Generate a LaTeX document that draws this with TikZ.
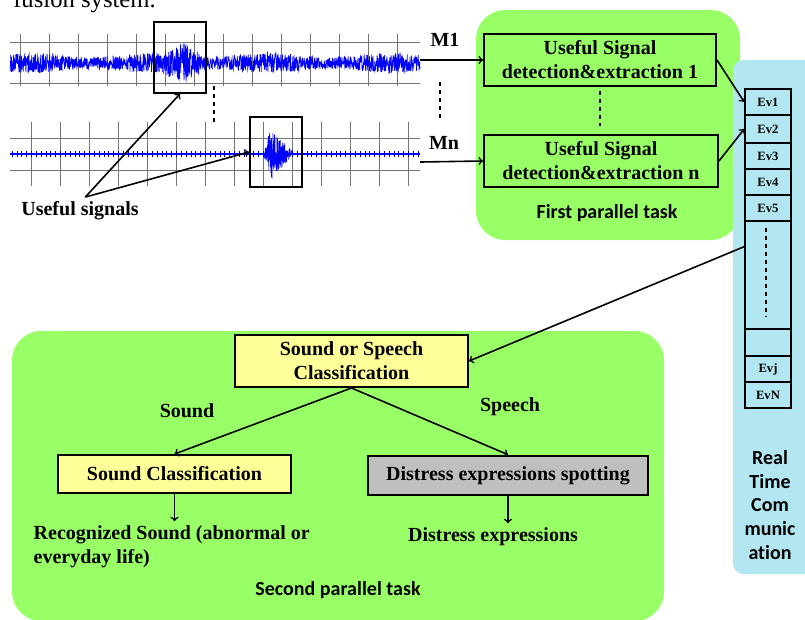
\documentclass[tikz,border=0pt]{standalone}
\usepackage{fontspec}
\setmainfont{Liberation Serif}
\newfontfamily\calibri[Ligatures=NoCommon]{Carlito}

\definecolor{panelgreen}{RGB}{153,255,102}
\definecolor{panelblue}{RGB}{178,230,240}
\definecolor{boxyellow}{RGB}{255,255,153}
\definecolor{boxgray}{RGB}{191,191,191}

\def\firstpanel{(476,10) rectangle (740,240)}
\def\secondpanel{(12,331) rectangle (664,621)}
\def\commpanel{(733,60) rectangle (850,574)}

\tikzset{
  task/.style={draw, line width=1.5pt, align=center, inner sep=0pt, font=\bfseries\fontsize{15}{18}\selectfont},
  evcell/.style={draw, line width=1.2pt, minimum width=34.5pt, inner sep=0pt, font=\bfseries\fontsize{9.5}{11}\selectfont},
  txt/.style={font=\bfseries\fontsize{15}{18}\selectfont},
  tasklabel/.style={font=\calibri\bfseries\fontsize{15}{17.8}\selectfont, align=center},
  sigframe/.style={draw, line width=1.3pt, inner sep=0pt},
  gridline/.style={black!55, line width=0.6pt},
  conn/.style={->, line width=1.2pt},
}

\begin{document}
\begin{tikzpicture}[x=0.75pt, y=-0.75pt]
	\useasboundingbox (0,0) rectangle (805,619);
	
	\fill[panelgreen, rounded corners=22pt] \firstpanel;
	\fill[panelgreen, rounded corners=22pt] \secondpanel;
	\fill[panelblue, rounded corners=8pt] \commpanel;
	
	% text of the page above the figure
	\node[anchor=base west, inner sep=0pt, font=\fontsize{18.5}{20}\selectfont] (caption) at (13,7) {fusion system.};
	
	% signal M1
	\draw[gridline] (10,42) -- (420,42) (10,83) -- (420,83);
	\foreach \i in {0,...,13} \draw[gridline] ({20+29*\i},34) -- ({20+29*\i},86);
	\pgfmathsetseed{12}
	\draw[blue, line width=0.5pt] plot[domain=10:420, samples=1600] (\x,{63+(8+2*sin(3*\x)+14*max(0,1-abs(\x-183)/22))*rand});
	
	% signal Mn
	\draw[gridline] (10,138) -- (420,138) (10,170) -- (420,170);
	\foreach \i in {0,...,13} \draw[gridline] ({31+29*\i},122) -- ({31+29*\i},186);
	\foreach \i in {0,...,84} \draw[blue!50!black, line width=0.5pt] ({12+29/6*\i},151) -- ({12+29/6*\i},157);
	\draw[blue, line width=1pt] (10,154) -- (420,154);
	\draw[blue, line width=0.5pt] plot[domain=263:294, samples=160] (\x,{154+26*(\x<271 ? (\x-263)/8 : (294-\x)/23)*rand});
	
	\node[sigframe, minimum width=39pt, minimum height=53.25pt] (sig1) at (180,57.5) {};
	\node[sigframe, minimum width=39pt, minimum height=52.5pt] (sign) at (276,152) {};
	\draw[dashed, line width=1.2pt] (214,86) -- (214,122);
	
	\node[txt] (useful) at (80,211) {Useful signals};
	\draw[conn] ([xshift=4pt]useful.north) -- (sig1.south);
	\draw[conn] ([xshift=4pt]useful.north) -- (sign.west);
	
	% first parallel task
	\node[task, minimum width=174pt, minimum height=39pt] (det1) at (600,60) {Useful Signal\\detection\&extraction 1};
	\node[task, minimum width=175.5pt, minimum height=39pt] (detn) at (601,161) {Useful Signal\\detection\&extraction n};
	\draw[dashed, line width=1.2pt, shorten <=3pt, shorten >=6pt] (det1.south) -- (det1.south |- detn.north);
	\node[tasklabel] (first) at (607,213) {First parallel task};
	
	\coordinate (m1end) at (420,60);
	\coordinate (mnend) at (420,162);
	\node[txt] (m1) at (445,40) {M1};
	\node[txt] (mn) at (444,143) {Mn};
	\draw[conn] (m1end) -- (det1.west);
	\draw[conn] (mnend) -- (detn.west);
	\draw[dashed, line width=1.2pt] (440,82) -- (440,118);
	
	% events
	\foreach \n/\lab/\a/\b in {1/Ev1/89/115, 2/Ev2/115/143, 3/Ev3/143/169, 4/Ev4/169/195, 5/Ev5/195/221, dots//221/329, gap//329/356, j/Evj/356/382, N/EvN/382/408}
		\node[evcell, minimum height={(\b-\a)*0.75pt}] (ev\n) at (768,{(\a+\b)/2}) {\lab};
	\draw[dashed, line width=1.2pt] (766,228) -- (766,317);
	\draw[conn] (det1.east) -- (ev1.west);
	\draw[conn] (detn.east) -- (ev2.west);
	\node[tasklabel] (rtc) at (770,505) {Real\\Time\\Com\\munic\\ation};
	
	% second parallel task
	\node[task, fill=boxyellow, minimum width=174.75pt, minimum height=39pt] (ssc) at (351.5,361) {Sound or Speech\\Classification};
	\node[task, fill=boxyellow, minimum width=174.75pt, minimum height=28.5pt] (scl) at (174.5,474) {Sound Classification};
	\node[task, fill=boxgray, line width=2pt, minimum width=210pt, minimum height=29.25pt] (dst) at (508,475.5) {Distress expressions spotting};
	\draw[conn] (evdots.130) -- (ssc.east);
	\node[txt] (snd) at (187,411) {Sound};
	\node[txt] (sp) at (510,407) {Speech};
	\draw[conn] (ssc.south) -- (scl.north);
	\draw[conn] (ssc.south) -- (dst.north);
	\node[txt, align=left, anchor=west] (rec) at (29,547) {Recognized Sound (abnormal or\\everyday life)};
	\draw[conn] (scl.south) -- (scl.south |- rec.north);
	\node[txt] (dex) at (493,537) {Distress expressions};
	\draw[conn] (dst.south) -- (dst.south |- dex.north);
	\node[tasklabel] (second) at (338,590) {Second parallel task};
	
\end{tikzpicture}
\end{document}
